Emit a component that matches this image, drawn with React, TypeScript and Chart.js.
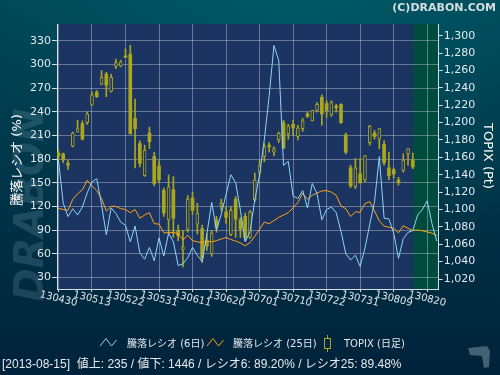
import React, { useEffect, useRef } from 'react';
import { Chart, registerables } from 'chart.js';
Chart.register(...registerables);

// ---------- data ----------
const xTickIndex = [0, 7, 14, 21, 28, 35, 42, 49, 56, 63, 70, 77];
const xTickLabels = ['130430', '130513', '130522', '130531', '130611', '130620', '130701', '130710', '130722', '130731', '130809', '130820'];
const leftTicks = [30, 60, 90, 120, 150, 180, 210, 240, 270, 300, 330];
const rightTicks = [1020, 1040, 1060, 1080, 1100, 1120, 1140, 1160, 1180, 1200, 1220, 1240, 1260, 1280, 1300];
const currentIndex = 74;

const topixOpen = [1165, 1164, 1153, 1173, 1189, 1199, 1200, 1220, 1235, 1244, 1256, 1236, 1265, 1265, 1277, 1279, 1205, 1176, 1139, 1188,
  1161, 1150, 1122, 1088, 1123, 1076, 1054, 1077, 1113, 1083, 1078, 1064, 1049, 1088, 1104, 1097, 1071, 1112, 1088, 1092,
  1068, 1111, 1143, 1161, 1174, 1166, 1180, 1200, 1187, 1198, 1184, 1193, 1210, 1202, 1214, 1229, 1222, 1209, 1219, 1221,
  1186, 1148, 1126, 1141, 1134, 1177, 1188, 1181, 1175, 1148, 1146, 1134, 1145, 1164, 1157];
const topixHigh = [1169, 1165, 1157, 1189, 1203, 1202, 1212, 1235, 1237, 1260, 1258, 1256, 1273, 1272, 1285, 1289, 1227, 1179, 1174, 1195,
  1166, 1156, 1125, 1140, 1138, 1082, 1076, 1116, 1120, 1107, 1082, 1072, 1076, 1092, 1112, 1103, 1103, 1115, 1091, 1096,
  1099, 1142, 1157, 1176, 1177, 1172, 1189, 1203, 1198, 1203, 1197, 1205, 1212, 1214, 1223, 1232, 1225, 1225, 1221, 1222,
  1188, 1151, 1159, 1159, 1162, 1197, 1191, 1193, 1179, 1166, 1148, 1137, 1164, 1170, 1165];
const topixLow = [1158, 1154, 1146, 1172, 1189, 1180, 1198, 1220, 1229, 1244, 1230, 1235, 1262, 1264, 1275, 1187, 1148, 1149, 1138, 1170,
  1127, 1131, 1092, 1073, 1068, 1064, 1034, 1074, 1094, 1072, 1039, 1053, 1046, 1074, 1099, 1084, 1070, 1068, 1068, 1064,
  1067, 1109, 1138, 1155, 1166, 1162, 1177, 1170, 1181, 1186, 1180, 1190, 1206, 1202, 1212, 1197, 1206, 1207, 1212, 1199,
  1164, 1125, 1124, 1130, 1132, 1174, 1181, 1170, 1151, 1134, 1136, 1128, 1143, 1151, 1147];
const topixClose = [1162, 1157, 1151, 1188, 1193, 1181, 1210, 1232, 1230, 1252, 1243, 1252, 1269, 1270, 1275, 1187, 1193, 1153, 1168, 1178,
  1130, 1134, 1096, 1126, 1090, 1070, 1057, 1112, 1099, 1096, 1044, 1058, 1073, 1080, 1107, 1091, 1099, 1089, 1077, 1068,
  1097, 1134, 1150, 1172, 1172, 1170, 1188, 1171, 1196, 1194, 1194, 1202, 1207, 1214, 1221, 1210, 1214, 1223, 1217, 1200,
  1166, 1127, 1148, 1131, 1162, 1196, 1184, 1193, 1154, 1139, 1141, 1131, 1157, 1170, 1149];

const ratio6 = [179, 124, 107, 117, 109, 119, 137, 151, 155, 122, 84, 118, 111, 100, 96, 75, 95, 61, 53, 68,
  51, 80, 57, 86, 75, 45, 47, 55, 68, 58, 50, 85, 125, 90, 110, 135, 160, 150, 115, 75,
  88, 128, 160, 205, 260, 324, 305, 172, 177, 133, 130, 140, 118, 149, 136, 103, 116, 119, 112, 88,
  60, 52, 58, 44, 67, 97, 126, 183, 105, 104, 86, 54, 79, 87, 89.2, 109, 116, 127, 98, 76];
const ratio25 = [117.5, 116, 115, 129, 136, 141, 153, 146, 140, 130, 114, 120, 120, 117, 116, 112, 116, 105, 109, 112,
  98, 97.5, 86.5, 86.5, 87, 85, 77.5, 83.5, 76.5, 75, 74, 76, 75, 76.5, 78.5, 80.5, 78, 76, 73.5, 70,
  74, 82, 91, 100, 98, 102, 106, 109, 112, 118, 125, 136.5, 129, 134, 137, 139.5, 140, 138, 134, 120.5,
  117, 107, 113, 112.5, 123.5, 126, 114, 101.5, 95, 93.5, 92, 86.5, 95.4, 92, 89.5, 90, 89, 87.5, 86, 83];

const legendLabels = ['騰落レシオ (6日)', '騰落レシオ (25日)', 'TOPIX (日足)'];
const leftTitle = '騰落レシオ (%)';
const rightTitle = 'TOPIX (Pt)';
const statusText = '[2013-08-15]  値上: 235 / 値下: 1446 / レシオ6: 89.20% / レシオ25: 89.48%';
const copyright = '(C)DRABON.COM';

// ---------- styles ----------
const BLUE = '#8fd4f6';
const ORANGE = '#ffa514';
const OLIVE = '#aaa61e';
const PLOT_BG = '#1b3461';
const FUTURE_BG = '#004a3e';
const GRID = 'rgba(255,255,255,0.33)';
const AXIS = 'rgba(235,240,245,0.9)';
const TXT = '#e2e8ee';
const FONT = '"DejaVu Sans", "Noto Sans CJK JP", sans-serif';

const decoPlugin = {
  id: 'deco',
  beforeDraw(chart: any) {
    const { ctx, chartArea: a, scales } = chart;
    ctx.save();
    const g = ctx.createLinearGradient(0, 0, 0, 375);
    g.addColorStop(0, '#004858');
    g.addColorStop(0.45, '#00364a');
    g.addColorStop(1, '#00223a');
    ctx.fillStyle = g;
    ctx.fillRect(0, 0, 500, 375);
    const r = ctx.createRadialGradient(300, -30, 10, 300, -30, 320);
    r.addColorStop(0, 'rgba(0,110,120,0.45)');
    r.addColorStop(1, 'rgba(0,110,120,0)');
    ctx.fillStyle = r;
    ctx.fillRect(0, 0, 500, 375);
    // watermark
    ctx.save();
    ctx.translate(33, 205);
    ctx.rotate(-Math.PI / 2);
    ctx.font = 'italic bold 40px "DejaVu Sans"';
    ctx.fillStyle = 'rgba(120,160,175,0.24)';
    ctx.textAlign = 'center';
    ctx.textBaseline = 'middle';
    ctx.fillText('DRABON', 0, 0);
    ctx.restore();
    // plot area
    ctx.fillStyle = PLOT_BG;
    ctx.fillRect(a.left, a.top, a.right - a.left, a.bottom - a.top);
    const gx = scales.x.getPixelForValue(currentIndex);
    ctx.fillStyle = FUTURE_BG;
    ctx.fillRect(gx, a.top, a.right - gx, a.bottom - a.top);
    ctx.restore();
  },
  afterDraw(chart: any) {
    const { ctx, scales } = chart;
    ctx.save();
    ctx.fillStyle = TXT;
    // x tick labels (slanted)
    ctx.font = '10px ' + FONT;
    ctx.textAlign = 'center';
    ctx.textBaseline = 'middle';
    xTickIndex.forEach((v, k) => {
      const px = scales.x.getPixelForValue(v);
      ctx.save();
      ctx.translate(px, 299);
      ctx.rotate((14 * Math.PI) / 180);
      ctx.fillText(xTickLabels[k], 0, 0);
      ctx.restore();
    });
    // axis titles
    ctx.font = '13px ' + FONT;
    ctx.fillStyle = '#ffffff';
    ctx.save();
    ctx.translate(18, 160);
    ctx.rotate(-Math.PI / 2);
    ctx.fillText(leftTitle, 0, 0);
    ctx.restore();
    ctx.save();
    ctx.translate(487, 156);
    ctx.rotate(Math.PI / 2);
    ctx.fillText(rightTitle, 0, 0);
    ctx.restore();
    // copyright
    ctx.font = 'bold 11px ' + FONT;
    ctx.fillStyle = '#d6dee2';
    ctx.textAlign = 'right';
    ctx.fillText(copyright, 496, 8);
    // legend
    ctx.lineWidth = 1;
    const zig = (x0: number, col: string) => {
      ctx.strokeStyle = col;
      ctx.beginPath();
      ctx.moveTo(x0, 346);
      ctx.lineTo(x0 + 6, 338.5);
      ctx.lineTo(x0 + 11.5, 346);
      ctx.lineTo(x0 + 16.5, 340);
      ctx.stroke();
    };
    zig(100, BLUE);
    zig(207, ORANGE);
    ctx.strokeStyle = OLIVE;
    ctx.beginPath();
    ctx.moveTo(327.5, 335);
    ctx.lineTo(327.5, 338.5);
    ctx.moveTo(327.5, 348.5);
    ctx.lineTo(327.5, 352);
    ctx.stroke();
    ctx.strokeRect(324.5, 338.5, 6, 10);
    ctx.font = '10px ' + FONT;
    ctx.fillStyle = TXT;
    ctx.textAlign = 'left';
    ctx.fillText(legendLabels[0], 127, 344);
    ctx.fillText(legendLabels[1], 233, 344);
    ctx.fillText(legendLabels[2], 344, 344);
    // status line
    ctx.font = '12px "Liberation Sans", "Noto Sans CJK JP", sans-serif';
    ctx.fillStyle = '#e6ebee';
    ctx.fillText(statusText, 2, 364.5);
    // corner logo
    ctx.fillStyle = 'rgba(120,150,162,0.55)';
    ctx.beginPath();
    ctx.moveTo(468, 348);
    ctx.lineTo(487, 346);
    ctx.lineTo(490, 351);
    ctx.lineTo(489, 367);
    ctx.lineTo(484, 368);
    ctx.lineTo(482, 356);
    ctx.lineTo(470, 355);
    ctx.closePath();
    ctx.fill();
    ctx.restore();
  },
};

export default function App() {
  const ref = useRef<HTMLCanvasElement>(null);
  useEffect(() => {
    document.body.style.margin = '0';
    const idx = topixOpen.map((_, i) => i);
    const hollow = idx.map((i) => topixClose[i] >= topixOpen[i]);
    const chart = new Chart(ref.current as HTMLCanvasElement, {
      type: 'bar',
      data: {
        datasets: [
          {
            type: 'line',
            label: legendLabels[0],
            data: ratio6.map((v, i) => ({ x: i, y: v })),
            borderColor: BLUE,
            borderWidth: 1,
            pointRadius: 0,
            tension: 0,
            yAxisID: 'y',
            order: 0,
          } as any,
          {
            type: 'line',
            label: legendLabels[1],
            data: ratio25.map((v, i) => ({ x: i, y: v })),
            borderColor: ORANGE,
            borderWidth: 1,
            pointRadius: 0,
            tension: 0,
            yAxisID: 'y',
            order: 1,
          } as any,
          {
            type: 'bar',
            label: 'body',
            data: idx.map((i) => ({ x: i, y: [topixOpen[i], topixClose[i]] })),
            backgroundColor: hollow.map((h) => (h ? PLOT_BG : OLIVE)),
            borderColor: OLIVE,
            borderWidth: hollow.map((h) => (h ? 1 : 0)),
            borderSkipped: false,
            barThickness: 3,
            grouped: false,
            yAxisID: 'y2',
            order: 2,
          } as any,
          {
            type: 'bar',
            label: 'wick',
            data: idx.map((i) => ({ x: i, y: [topixLow[i], topixHigh[i]] })),
            backgroundColor: OLIVE,
            borderWidth: 0,
            barThickness: 1,
            grouped: false,
            yAxisID: 'y2',
            order: 3,
          } as any,
        ],
      },
      options: {
        responsive: false,
        animation: false,
        devicePixelRatio: 1,
        events: [],
        layout: { padding: { top: 24, left: 0, right: 0, bottom: 0 } },
        plugins: { legend: { display: false }, tooltip: { enabled: false } },
        font: { family: FONT },
        scales: {
          x: {
            type: 'linear',
            min: -0.3,
            max: 79.4,
            offset: false,
            afterBuildTicks: (s: any) => {
              s.ticks = xTickIndex.map((v) => ({ value: v }));
            },
            afterFit: (s: any) => {
              s.height = 86;
            },
            ticks: { display: false, autoSkip: false },
            grid: { color: GRID, tickLength: 3, offset: false, tickColor: AXIS },
            border: { color: AXIS },
          },
          y: {
            position: 'left',
            min: 15.2,
            max: 351.2,
            afterBuildTicks: (s: any) => {
              s.ticks = leftTicks.map((v) => ({ value: v }));
            },
            afterFit: (s: any) => {
              s.width = 57;
            },
            ticks: { color: TXT, font: { size: 11, family: FONT }, padding: 1, autoSkip: false },
            grid: { color: GRID, tickLength: 5, tickColor: AXIS },
            border: { color: AXIS },
          },
          y2: {
            position: 'right',
            min: 1008.5,
            max: 1313.5,
            afterBuildTicks: (s: any) => {
              s.ticks = rightTicks.map((v) => ({ value: v }));
            },
            afterFit: (s: any) => {
              s.width = 61.3;
            },
            ticks: {
              color: TXT,
              font: { size: 11, family: FONT },
              padding: 1,
              autoSkip: false,
              callback: (v: any) => Number(v).toLocaleString('en-US'),
            },
            grid: { drawOnChartArea: false, tickLength: 4, color: AXIS },
            border: { color: AXIS },
          },
        },
      } as any,
      plugins: [decoPlugin],
    });
    return () => chart.destroy();
  }, []);
  return (
    <div style={{ position: 'fixed', left: 0, top: 0, width: 500, height: 375 }}>
      <canvas ref={ref} width={500} height={375} style={{ display: 'block', width: 500, height: 375 }} />
    </div>
  );
}
